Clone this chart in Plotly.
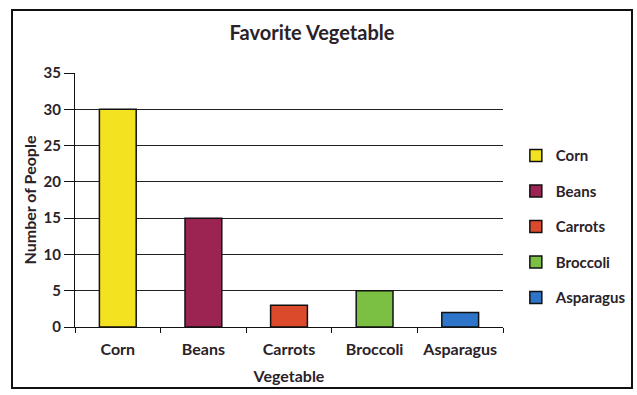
import plotly.graph_objects as go

# Survey results: favorite vegetable
vegetables = ["Corn", "Beans", "Carrots", "Broccoli", "Asparagus"]
people = [30, 15, 3, 5, 2]
bar_colors = ["#F3E21F", "#9C2452", "#DC4A2C", "#7CC043", "#2E74C8"]
y_ticks = [0, 5, 10, 15, 20, 25, 30, 35]

FONT = "Lato"
INK = "#2a2228"

fig = go.Figure()
for i, (veg, val, col) in enumerate(zip(vegetables, people, bar_colors)):
    fig.add_trace(go.Bar(
        x=[veg], y=[val], name=veg,
        marker=dict(color=col, line=dict(color="#111111", width=1.5)),
        width=0.43,
        legendgroup=veg,
    ))

fig.update_layout(
    width=637, height=395,
    margin=dict(l=75, r=134, t=73, b=68, autoexpand=False),
    paper_bgcolor="white", plot_bgcolor="white",
    barmode="overlay",
    font=dict(family=FONT, color=INK, size=15, weight="bold"),
    title=dict(text="Favorite Vegetable", x=312 / 637, xanchor="center",
               y=1 - 33 / 395, yanchor="middle",
               font=dict(family=FONT, size=20, color=INK, weight="bold")),
    showlegend=True,
    legend=dict(x=1.03, xanchor="left", y=0.395, yanchor="middle",
                font=dict(family=FONT, size=15, color=INK, weight="bold"),
                tracegroupgap=13, itemwidth=30, bgcolor="rgba(0,0,0,0)"),
    xaxis=dict(
        categoryorder="array", categoryarray=vegetables,
        showline=True, linecolor="#111111", linewidth=1.2,
        ticks="outside", tickson="boundaries", ticklen=5, tickcolor="#111111",
        ticklabelstandoff=8,
        tickfont=dict(family=FONT, size=16, color=INK, weight="bold"),
        title=dict(text="Vegetable", standoff=13,
                   font=dict(family=FONT, size=16, color=INK, weight="bold")),
        showgrid=False,
    ),
    yaxis=dict(
        range=[0, 35], tickvals=y_ticks,
        showline=True, linecolor="#111111", linewidth=1.2,
        ticks="outside", ticklen=10, tickcolor="#111111",
        showgrid=True, gridcolor="#222222", gridwidth=1,
        zeroline=False,
        tickfont=dict(family=FONT, size=15, color=INK, weight="bold"),
        title=dict(text="Number of People", standoff=2,
                   font=dict(family=FONT, size=16, color=INK, weight="bold")),
    ),
    shapes=[
        # outer chart border
        dict(type="rect", xref="paper", yref="paper",
             x0=(12 - 75) / 428, x1=(632 - 75) / 428,
             y0=(327 - 388) / 254, y1=(327 - 10) / 254,
             line=dict(color="#111111", width=2), fillcolor="rgba(0,0,0,0)",
             layer="below"),
    ],
)

fig.write_html("out.html")
